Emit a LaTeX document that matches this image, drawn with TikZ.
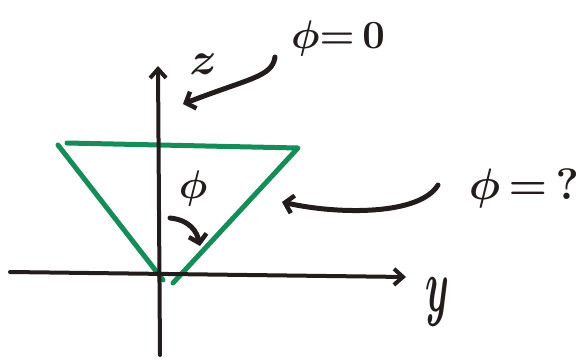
\RequirePackage{fix-cm}
\documentclass[tikz,border=0pt]{standalone}
\usepackage{graphicx}
\usetikzlibrary{arrows.meta}
\definecolor{ink}{RGB}{35,28,28}
\definecolor{marker}{RGB}{22,140,88}
\tikzset{
  axis/.style={draw=ink, line width=4pt, line cap=round, -{Straight Barb[length=9pt,width=16pt,line width=4pt]}},
  pointer/.style={draw=ink, line width=5pt, line cap=round, -{Straight Barb[length=8pt,width=18pt,line width=4.5pt]}},
  tri/.style={draw=marker, line width=5pt, line cap=round, line join=round},
  lbl/.style={text=ink, inner sep=0pt},
}
\begin{document}
\begin{tikzpicture}[x=1pt,y=-1pt]
\useasboundingbox (0,0) rectangle (584,359);
% coordinates
\coordinate (zb) at (160,355);
\coordinate (zt) at (158,66);
\coordinate (yl) at (10,272);
\coordinate (yr) at (406,277);
\coordinate (tl) at (58,145);
\coordinate (tl2) at (67,143);
\coordinate (tr) at (298,148);
\coordinate (bl) at (163,280);
\coordinate (br) at (173,283);
\coordinate (a1s) at (275,57);
\coordinate (a1e) at (183,104);
\coordinate (a2s) at (438,185);
\coordinate (a2e) at (282,202);
\coordinate (a3s) at (170,218);
\coordinate (a3e) at (200,246);
% triangle
\draw[tri] (tl2) -- (tr) -- (br);
\draw[tri] (tl) -- (bl);
% axes
\draw[axis] (yl) -- (yr);
\draw[axis] (zb) -- (zt);
% labels
\node[lbl, font=\fontsize{40}{44}\selectfont\boldmath] (phizero) at (338,38) {$\phi{=}\,0$};
\node[lbl, font=\fontsize{44}{48}\selectfont\boldmath] (phiq) at (524,188) {$\phi\,{=}\,?$};
\node[lbl, font=\fontsize{46}{50}\selectfont\boldmath] (zl) at (203,64) {$z$};
\node[lbl, font=\fontsize{76}{80}\selectfont\boldmath] (yl2) at (437,302) {\scalebox{0.5}[1]{$y$}};
\node[lbl, font=\fontsize{40}{44}\selectfont\boldmath] (phin) at (193,188) {$\phi$};
% pointers
\draw[pointer] (a1s) .. controls (272,77) and (250,78) .. (a1e);
\draw[pointer] (a2s) .. controls (420,215) and (340,215) .. (a2e);
\draw[pointer] (a3s) .. controls (190,220) and (197,232) .. (a3e);
\end{tikzpicture}
\end{document}
